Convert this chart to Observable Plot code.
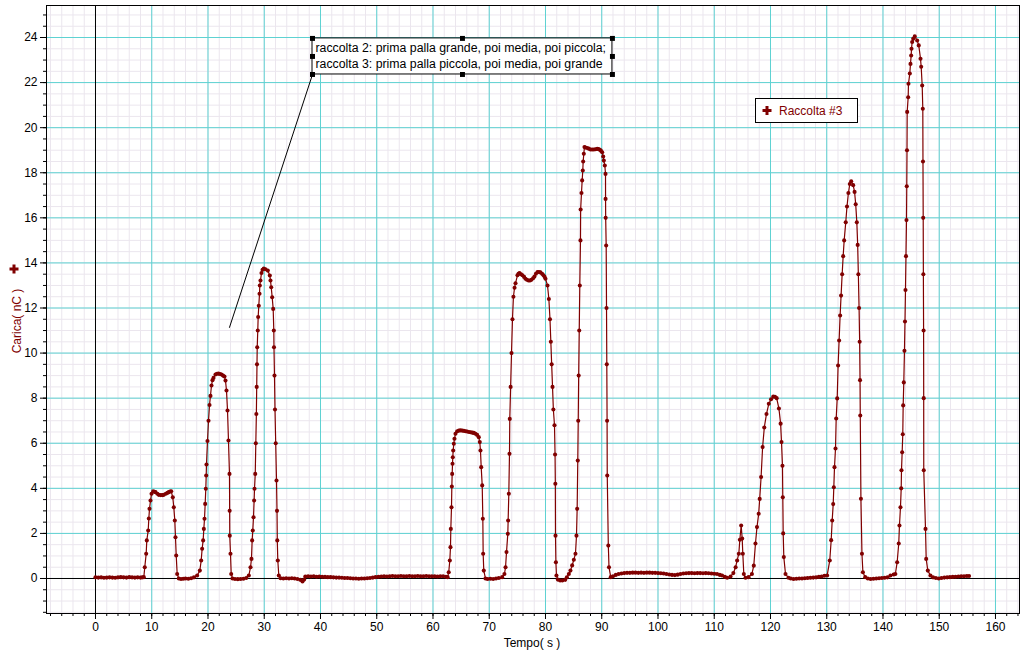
<!DOCTYPE html>
<html><head><meta charset="utf-8">
<script src="https://cdn.jsdelivr.net/npm/d3@7"></script>
<script src="https://cdn.jsdelivr.net/npm/@observablehq/plot@0.6"></script>
<style>
body{margin:0;background:#fff}
#chart{position:relative;width:1024px;height:657px}
</style>
</head><body><div id="chart"></div>
<script>
// Raccolta #3 : [tempo (s), carica (nC)]
const raccolta3 = [
[0,0.05],[0.5,0.04],[1,0.05],[1.5,0.03],[2,0.04],[2.5,0.05],[3,0.04],[3.5,0.03],[4,0.05],[4.5,0.06],[5,0.05],[5.5,0.04],[6,0.06],[6.5,0.05],[7,0.04],[7.5,0.05],[8,0.04],[8.3,0.05],
[8.59,0.06],[8.76,0.5],[9.01,1.1],[9.12,1.69],[9.37,2.13],[9.48,2.66],[9.6,3.09],[9.78,3.46],[9.96,3.76],[10.26,3.87],[10.5,3.85],[10.67,3.83],[11.0,3.76],[11.25,3.71],[11.6,3.7],[11.9,3.7],[12.14,3.71],[12.5,3.76],[12.8,3.8],[13.03,3.83],[13.25,3.86],[13.46,3.87],[13.74,3.6],[13.92,3.16],[14.1,2.57],[14.22,1.83],[14.35,1.02],[14.52,0.2],[14.81,0.0],[15.2,-0.02],[15.6,-0.01],[16.0,0.0],[16.5,-0.01],[17.0,0.01],[17.5,0.05],
[18.07,0.13],[18.55,0.35],[18.79,0.8],[18.96,1.32],[19.14,1.69],[19.26,2.2],[19.38,2.65],[19.5,3.31],[19.61,3.98],[19.68,4.57],[19.73,5.06],[19.91,6.1],[20.09,7.0],[20.27,7.7],[20.44,8.1],[20.62,8.56],[20.8,8.8],[20.98,8.9],[21.33,9.05],[21.6,9.08],[21.87,9.09],[22.13,9.07],[22.4,9.05],[22.67,9.0],[22.93,8.96],[23.11,8.78],[23.29,8.34],[23.47,7.45],[23.64,6.12],[23.82,4.64],[23.85,3.0],[23.87,1.9],[24.0,1.1],[24.13,0.2],[24.36,0.0],[24.8,-0.02],[25.3,-0.03],[25.8,-0.02],[26.3,-0.01],[26.8,0.02],
[27.26,0.13],[27.56,0.5],[27.73,0.87],[27.85,1.69],[27.96,2.13],[28.09,2.72],[28.2,3.46],[28.27,3.98],[28.4,4.64],[28.5,6.0],[28.6,7.3],[28.66,8.5],[28.71,9.5],[28.75,10.26],[28.85,11.0],[28.92,11.6],[29.03,12.1],[29.16,12.63],[29.21,13.0],[29.33,13.22],[29.51,13.55],[29.7,13.7],[29.92,13.75],[30.22,13.72],[30.63,13.66],[30.99,13.44],[31.11,13.22],[31.24,12.92],[31.41,12.48],[31.59,11.96],[31.7,11.0],[31.73,10.26],[31.82,9.0],[31.91,7.5],[32.04,6.0],[32.18,4.35],[32.27,3.0],[32.32,1.69],[32.41,0.8],[32.59,0.13],
[32.9,0.01],[33.4,0.0],[33.9,0.01],[34.4,0.0],[34.9,0.01],[35.4,0.0],[35.9,-0.02],[36.4,-0.06],[36.8,-0.13],[37.1,-0.05],[37.3,0.09],[37.8,0.1],[38.3,0.09],[38.8,0.1],[39.3,0.08],[39.8,0.09],[40.3,0.08],[40.8,0.07],[41.3,0.06],[41.8,0.06],[42.3,0.05],[42.8,0.04],[43.3,0.04],[43.8,0.03],[44.3,0.02],[44.8,0.02],[45.3,0.01],[45.8,0.0],[46.3,0.0],[46.8,-0.01],[47.3,0.0],[47.8,0.0],[48.3,0.01],[48.8,0.02],[49.3,0.04],[49.8,0.06],[50.3,0.08],[50.8,0.09],[51.3,0.1],[51.8,0.09],[52.3,0.1],[52.8,0.11],[53.3,0.1],[53.8,0.1],[54.3,0.11],[54.8,0.1],[55.3,0.1],[55.8,0.11],[56.3,0.1],[56.8,0.1],[57.3,0.11],[57.8,0.1],[58.3,0.1],[58.8,0.11],[59.3,0.1],[59.8,0.1],[60.3,0.1],[60.8,0.09],[61.3,0.1],[61.8,0.1],[62.3,0.08],[62.6,0.06],
[62.8,0.28],[62.99,0.8],[63.11,1.39],[63.17,2.2],[63.29,3.16],[63.35,4.08],[63.41,4.64],[63.47,5.09],[63.52,5.38],[63.59,5.68],[63.7,5.98],[63.82,6.2],[64.0,6.42],[64.3,6.53],[64.6,6.56],[64.89,6.57],[65.2,6.56],[65.5,6.55],[65.8,6.53],[66.07,6.52],[66.4,6.5],[66.7,6.49],[67.0,6.47],[67.26,6.46],[67.55,6.42],[67.85,6.37],[68.14,6.27],[68.32,6.05],[68.44,5.68],[68.57,4.94],[68.75,4.13],[68.86,2.65],[68.92,1.1],[69.03,0.35],[69.33,0.0],[69.7,-0.02],[70.2,-0.01],[70.7,-0.02],[71.2,0.0],[71.7,0.02],[72.3,0.06],
[72.7,0.2],[72.9,0.5],[73.07,1.17],[73.3,1.98],[73.36,2.57],[73.48,3.76],[73.6,5.53],[73.65,7.08],[73.8,8.5],[73.96,10.0],[74.13,11.5],[74.3,12.5],[74.5,12.9],[74.67,13.1],[75.02,13.45],[75.2,13.52],[75.38,13.55],[75.65,13.5],[75.9,13.45],[76.2,13.38],[76.44,13.3],[76.7,13.25],[76.98,13.22],[77.25,13.22],[77.5,13.25],[77.8,13.32],[78.04,13.4],[78.3,13.52],[78.58,13.6],[78.85,13.6],[79.1,13.58],[79.4,13.52],[79.64,13.45],[79.85,13.38],[80.0,13.3],[80.36,13.0],[80.6,12.4],[80.8,11.5],[80.95,10.5],[81.1,9.5],[81.25,8.5],[81.4,7.5],[81.6,6.8],[81.7,5.5],[81.75,4.2],[81.78,1.9],[81.85,0.72],[81.95,0.13],[82.2,-0.05],[82.6,-0.09],[83.0,-0.09],[83.5,-0.06],[83.8,0.05],
[84.15,0.2],[84.44,0.35],[84.74,0.58],[85.04,0.83],[85.33,1.1],[85.51,1.9],[85.63,3.09],[85.74,5.23],[85.82,7.0],[85.9,9.0],[86.0,11.0],[86.1,13.0],[86.22,15.0],[86.25,16.37],[86.4,17.1],[86.52,17.66],[86.63,18.1],[86.7,18.5],[86.81,18.84],[86.93,19.14],[87.1,19.12],[87.4,19.1],[87.7,19.07],[88.0,19.03],[88.3,19.03],[88.6,19.03],[88.9,19.04],[89.2,19.06],[89.45,19.05],[89.66,19.02],[89.85,18.98],[90.08,18.91],[90.26,18.72],[90.37,18.54],[90.55,18.32],[90.67,17.95],[90.68,16.84],[90.7,16.0],[90.79,14.77],[90.85,12.0],[90.9,9.5],[90.95,7.0],[90.98,4.57],[91.17,1.46],[91.29,0.5],[91.6,0.06],
[92.0,0.1],[92.5,0.16],[93.0,0.2],[93.5,0.22],[94.0,0.24],[94.5,0.25],[95.0,0.25],[95.5,0.26],[96.0,0.26],[96.5,0.25],[97.0,0.26],[97.5,0.25],[98.0,0.26],[98.5,0.26],[99.0,0.25],[99.5,0.25],[100.0,0.24],[100.5,0.23],[101.0,0.22],[101.5,0.2],[102.0,0.18],[102.5,0.16],[103.0,0.15],[103.5,0.17],[104.0,0.2],[104.5,0.22],[105.0,0.23],[105.5,0.24],[106.0,0.24],[106.5,0.23],[107.0,0.24],[107.5,0.24],[108.0,0.23],[108.5,0.24],[109.0,0.23],[109.5,0.22],[110.0,0.21],[110.5,0.2],[111.0,0.16],[111.4,0.13],[111.9,0.07],[112.3,0.03],[112.9,0.09],
[113.4,0.24],[113.8,0.5],[114.07,0.8],[114.37,1.1],[114.55,1.72],[114.79,2.35],[114.97,1.77],[115.08,1.1],[115.26,0.2],[115.56,0.03],[116.1,0.06],[116.7,0.2],
[117.03,0.57],[117.33,1.55],[117.6,2.28],[117.9,2.87],[118.08,3.53],[118.33,4.5],[118.6,5.83],[118.9,6.7],[119.29,7.3],[119.7,7.75],[120.1,7.95],[120.5,8.07],[120.8,8.06],[121.1,8.0],[121.5,7.54],[121.8,6.87],[121.96,6.05],[122.13,5.0],[122.19,3.6],[122.26,2.0],[122.37,0.95],[122.67,0.2],[123.2,0.03],[123.6,0.0],[124.1,-0.02],[124.6,-0.01],[125.1,0.0],[125.6,0.0],[126.1,0.01],[126.6,0.02],[127.1,0.03],[127.6,0.04],[128.1,0.05],[128.6,0.07],[129.1,0.09],[129.6,0.12],[130.07,0.13],
[130.54,0.8],[130.79,1.7],[130.97,2.57],[131.15,3.3],[131.26,4.05],[131.38,4.94],[131.56,5.77],[131.68,7.1],[131.86,7.99],[132.02,9.45],[132.2,10.56],[132.38,11.67],[132.55,12.55],[132.74,13.5],[132.92,14.3],[133.1,15.0],[133.38,15.8],[133.6,16.5],[133.85,17.1],[134.1,17.5],[134.35,17.62],[134.7,17.45],[134.95,17.15],[135.15,16.6],[135.35,15.8],[135.5,14.8],[135.62,13.5],[135.75,12.0],[135.85,10.5],[135.92,8.8],[135.96,7.23],[136.08,3.54],[136.26,1.1],[136.43,0.28],[136.84,0.06],
[137.3,0.0],[137.8,-0.02],[138.3,-0.01],[138.8,0.0],[139.3,0.01],[139.8,0.02],[140.3,0.03],[140.8,0.05],[141.33,0.13],[141.9,0.18],[142.2,0.2],
[142.52,0.72],[142.8,1.55],[142.93,2.35],[143.11,3.16],[143.24,4.0],[143.29,4.8],[143.41,5.6],[143.52,6.4],[143.59,7.68],[143.7,8.7],[143.82,10.1],[143.91,11.4],[144.0,12.8],[144.09,14.3],[144.18,15.9],[144.23,17.4],[144.27,19.0],[144.3,20.7],[144.48,21.35],[144.53,21.95],[144.77,22.4],[144.89,22.83],[145.01,23.2],[145.07,23.5],[145.19,23.8],[145.37,23.94],[145.65,24.05],[146.08,23.87],[146.36,23.65],[146.67,23.06],[146.79,22.7],[146.97,21.87],[147.08,20.84],[147.11,18.5],[147.15,16.0],[147.18,13.5],[147.22,11.0],[147.24,8.0],[147.25,4.8],[147.56,2.2],[147.68,0.87],[147.97,0.35],[148.44,0.13],
[148.9,0.05],[149.4,0.02],[149.92,0.0],[150.4,0.02],[150.9,0.04],[151.4,0.05],[151.9,0.06],[152.4,0.07],[152.9,0.08],[153.4,0.09],[153.9,0.1],[154.4,0.1],[154.9,0.11],[155.3,0.11]
];

// axis ticks
const xMajorTicks = d3.range(0, 161, 10);
const xMinorTicks = d3.range(-8, 165, 2);
const yMajorTicks = d3.range(0, 25, 2);
const yMinorTicks = d3.range(-1.5, 25.5, 0.5);

// annotation (data coordinates)
const notaTesto = ["raccolta 2: prima palla grande, poi media, poi piccola;", "raccolta 3: prima palla piccola, poi media, poi grande"];
const notaBox = [{x1: 38.58, x2: 91.9, y1: 22.36, y2: 23.96}];
const notaLinea = [[38.58, 22.36], [23.82, 11.14]];

const RED = "#800000";
const FONT = "'Liberation Sans', Arial, sans-serif";

const b = notaBox[0];
const handles = [[b.x1,b.y1],[(b.x1+b.x2)/2,b.y1],[b.x2,b.y1],[b.x1,(b.y1+b.y2)/2],[b.x2,(b.y1+b.y2)/2],[b.x1,b.y2],[(b.x1+b.x2)/2,b.y2],[b.x2,b.y2]];

const plot = Plot.plot({
  width: 1024, height: 657,
  marginLeft: 46, marginRight: 5, marginTop: 5, marginBottom: 44,
  x: {domain: [-8.711, 164.27]},
  y: {domain: [-1.553, 25.42]},
  style: {fontFamily: FONT, fontSize: "12px", background: "#fff", color: "#000", overflow: "visible"},
  marks: [
    Plot.gridX(xMinorTicks, {stroke: "#ebe6ee", strokeOpacity: 1}),
    Plot.gridY(yMinorTicks, {stroke: "#ebe6ee", strokeOpacity: 1}),
    Plot.gridX(xMajorTicks, {stroke: "#5ed2d2", strokeOpacity: 1}),
    Plot.gridY(yMajorTicks, {stroke: "#5ed2d2", strokeOpacity: 1}),
    Plot.ruleX([0], {stroke: "#000"}),
    Plot.ruleY([0], {stroke: "#000"}),
    Plot.axisX(xMinorTicks, {tickSize: 3, tickFormat: () => "", label: null, stroke: "#000"}),
    Plot.axisY(yMinorTicks, {tickSize: 3, tickFormat: () => "", label: null, stroke: "#000"}),
    Plot.axisX(xMajorTicks, {tickSize: 6, tickPadding: 3, label: null, stroke: "#000", fill: "#000"}),
    Plot.axisY(yMajorTicks, {tickSize: 6, tickPadding: 3, label: null, stroke: "#000", fill: "#000"}),
    Plot.frame({stroke: "#000"}),
    Plot.line(notaLinea, {x: d => d[0], y: d => d[1], stroke: "#000", strokeWidth: 1}),
    Plot.line(raccolta3, {x: d => d[0], y: d => d[1], stroke: RED, strokeWidth: 1.2}),
    Plot.dot(raccolta3, {x: d => d[0], y: d => d[1], r: 2.05, fill: RED, stroke: null}),
    Plot.rect(notaBox, {x1: "x1", x2: "x2", y1: "y1", y2: "y2", fill: "#fff", stroke: "#000", strokeWidth: 1}),
    Plot.dot(handles, {x: d => d[0], y: d => d[1], symbol: "square", r: 2.8, fill: "#000", stroke: null}),
    Plot.text([notaTesto[0]], {x: b.x1, y: (b.y1 + b.y2) / 2, text: d => d, textAnchor: "start", dx: 3, dy: -8, fill: "#000", fontSize: 12.3}),
    Plot.text([notaTesto[1]], {x: b.x1, y: (b.y1 + b.y2) / 2, text: d => d, textAnchor: "start", dx: 3, dy: 8, fill: "#000", fontSize: 12.3})
  ]
});

const svg = d3.select(plot);
// axis titles
svg.append("text").attr("x", 532).attr("y", 647).attr("text-anchor", "middle")
  .attr("font-family", FONT).attr("font-size", 12).attr("fill", "#000").text("Tempo( s )");
svg.append("text").attr("transform", "translate(21,321) rotate(-90)").attr("text-anchor", "middle")
  .attr("font-family", FONT).attr("font-size", 12).attr("fill", RED).text("Carica( nC )");
function plus(g, cx, cy) {
  g.append("path").attr("d", `M${cx-4.5},${cy}H${cx+4.5}M${cx},${cy-4.5}V${cy+4.5}`)
    .attr("stroke", RED).attr("stroke-width", 3).attr("fill", "none");
}
plus(svg, 14, 269);
// legend
const lg = svg.append("g");
lg.append("rect").attr("x", 755.5).attr("y", 98.5).attr("width", 102).attr("height", 24)
  .attr("fill", "#fff").attr("stroke", "#000");
plus(lg, 767, 110.5);
lg.append("text").attr("x", 779).attr("y", 115).attr("text-anchor", "start")
  .attr("font-family", FONT).attr("font-size", 12).attr("fill", RED).text("Raccolta #3");

document.getElementById("chart").appendChild(plot);
</script>
</body></html>
